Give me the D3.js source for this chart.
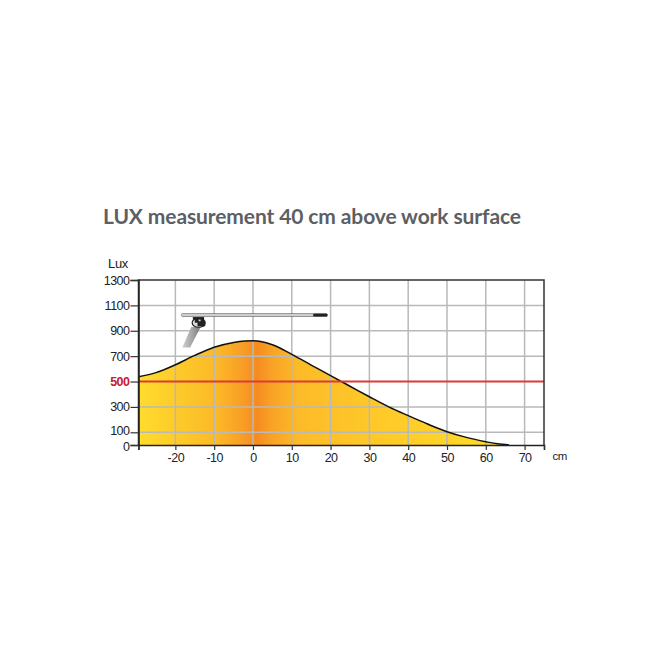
<!DOCTYPE html>
<html>
<head>
<meta charset="utf-8">
<script src="https://cdn.jsdelivr.net/npm/d3@7"></script>
<style>
html,body{margin:0;padding:0;background:#fff;}
svg{display:block;}
text{font-family:"Liberation Sans",Arial,sans-serif;}
</style>
</head>
<body>
<svg id="c" width="670" height="670"></svg>
<script>
const titleText = "LUX measurement 40 cm above work surface";
const xTicks = [-20,-10,0,10,20,30,40,50,60,70];
const yTicks = [0,100,300,500,700,900,1100,1300];
const curveX = [-29.5,-25,-20,-15,-10,-5,-2,0,2,5,10,15,20,25,30,35,40,45,50,55,60,63,66];
const curveLux = [538,570,632,706,770,808,819,821,815,790,714,630,546,463,380,300,231,165,105,60,26,9,0];
const threshold = 500;
const lampArmX = [-18.5,19.2];
const lampHeadX = [15.5,19.2];
const lampLux = 1024;

const svg = d3.select("#c");
const x = d3.scaleLinear().domain([-29.5,75]).range([138.5,544]);
const y = d3.scaleLinear().domain([0,1300]).range([445,280]);

const defs = svg.append("defs");
const grad = defs.append("linearGradient").attr("id","g").attr("gradientUnits","userSpaceOnUse")
  .attr("x1",x(-29.5)).attr("x2",x(66)).attr("y1",0).attr("y2",0);
[[-29.5,"#ffdc2e"],[-18,"#fdc829"],[-9,"#fcb827"],[-3,"#f89f26"],[1,"#f58b20"],[5,"#f9a325"],[12,"#fcbb28"],[30,"#fec828"],[66,"#ffdc2a"]]
  .forEach(([v,c])=>grad.append("stop").attr("offset",(v+29.5)/95.5).attr("stop-color",c));
defs.append("linearGradient").attr("id","arm").attr("x1",0).attr("x2",0).attr("y1",0).attr("y2",1)
  .selectAll("stop").data([["0","#999"],["0.5","#eee"],["1","#888"]]).join("stop")
  .attr("offset",d=>d[0]).attr("stop-color",d=>d[1]);
defs.append("linearGradient").attr("id","stem").attr("x1",0).attr("x2",1).attr("y1",0).attr("y2",0)
  .selectAll("stop").data([["0","#d0d0d0"],["0.6","#a0a0a0"],["1","#777"]]).join("stop")
  .attr("offset",d=>d[0]).attr("stop-color",d=>d[1]);

svg.append("text").attr("x",103).attr("y",224)
  .style("font-family","Lato").style("font-weight",700).style("font-size","21px").attr("fill","#5c5f63")
  .attr("textLength",418).attr("lengthAdjust","spacing").text(titleText);

const pts = curveX.map((v,i)=>[v,curveLux[i]]);
const area = d3.area().x(d=>x(d[0])).y0(y(0)).y1(d=>y(d[1])).curve(d3.curveMonotoneX);
const line = d3.line().x(d=>x(d[0])).y(d=>y(d[1])).curve(d3.curveMonotoneX);
svg.append("path").datum(pts).attr("d",area).attr("fill","url(#g)");

const grid = svg.append("g").attr("stroke","#b9b9b9").attr("stroke-width",1.5);
grid.selectAll("line.v").data(xTicks).join("line")
  .attr("x1",d=>x(d)).attr("x2",d=>x(d)).attr("y1",y(1300)).attr("y2",y(0));
grid.selectAll("line.h").data(yTicks.filter(d=>d>0&&d<1300&&d!==threshold)).join("line")
  .attr("x1",x(-29.5)).attr("x2",x(75)).attr("y1",d=>y(d)).attr("y2",d=>y(d));

svg.append("path").datum(pts).attr("d",line).attr("fill","none").attr("stroke","#111").attr("stroke-width",1.5);

svg.append("line").attr("x1",x(-29.5)).attr("x2",x(75)).attr("y1",y(threshold)).attr("y2",y(threshold))
  .attr("stroke","#dc3a36").attr("stroke-width",2);

svg.append("path").attr("fill","none").attr("stroke","#333").attr("stroke-width",1.5)
  .attr("d",`M${x(-29.5)},${y(0)}V${y(1300)}H${x(75)}V${y(0)}`);

const ax = svg.append("g").attr("transform",`translate(0,${y(0)})`)
  .call(d3.axisBottom(x).tickValues([-29.5,...xTicks,75]).tickSize(5).tickFormat(d=>xTicks.includes(d)?d:""));
const ay = svg.append("g").attr("transform",`translate(${x(-29.5)},0)`)
  .call(d3.axisLeft(y).tickValues(yTicks).tickSize(8).tickPadding(1).tickFormat(d=>d));
[ax,ay].forEach(g=>{
  g.select(".domain").attr("stroke","#222").attr("stroke-width",1.5);
  g.selectAll(".tick line").attr("stroke","#333").attr("stroke-width",1.2);
  g.selectAll("text").style("font-size","12.5px").style("font-family","Liberation Sans").style("letter-spacing","-0.5px").attr("fill","#222");
});
ax.selectAll("text").attr("dy","0.72em");
ay.selectAll(".tick").filter(d=>d===threshold).select("text").attr("fill","#c8202f").style("font-weight",700);
ay.selectAll(".tick").filter(d=>d===100).select("text").attr("dy","0.2em");
ay.selectAll(".tick").filter(d=>d===0).select("text").attr("dy","0.42em");

svg.append("text").attr("x",108).attr("y",268).style("font-size","13px").style("letter-spacing","-0.3px").attr("fill","#222").text("Lux");
svg.append("text").attr("x",552.5).attr("y",460).style("font-size","11.5px").style("letter-spacing","-0.4px").attr("fill","#222").text("cm");

const lamp = svg.append("g");
lamp.append("rect").attr("x",x(lampArmX[0])).attr("y",y(lampLux)-1.5).attr("rx",1.5)
  .attr("width",x(lampArmX[1])-x(lampArmX[0])).attr("height",3).attr("fill","url(#arm)").attr("stroke","#666").attr("stroke-width",0.5);
lamp.append("rect").attr("x",x(lampHeadX[0])).attr("y",y(lampLux)-1.4).attr("rx",1)
  .attr("width",x(lampHeadX[1])-x(lampHeadX[0])).attr("height",2.8).attr("fill","#222");
lamp.append("path").attr("fill","url(#stem)")
  .attr("d",`M${x(-15.9)},${y(929)}L${x(-13.5)},${y(929)}L${x(-16.2)},${y(768)}L${x(-18.2)},${y(768)}Z`);
lamp.append("ellipse").attr("cx",x(-14)).attr("cy",y(963)).attr("rx",6.5).attr("ry",4.5).attr("fill","#ddd").attr("stroke","#222").attr("stroke-width",1.2);
lamp.append("rect").attr("x",x(-15.5)).attr("y",y(1008)).attr("width",x(-12.6)-x(-15.5)).attr("height",2.5).attr("fill","#222");
lamp.append("rect").attr("x",x(-15)).attr("y",y(995)).attr("width",x(-14)-x(-15)).attr("height",4).attr("fill","#222");
lamp.append("rect").attr("x",x(-13.5)).attr("y",y(995)).attr("width",x(-12.6)-x(-13.5)).attr("height",4).attr("fill","#222");
lamp.append("rect").attr("x",x(-14.3)).attr("y",y(975)).attr("width",x(-12.3)-x(-14.3)).attr("height",5).attr("fill","#222");
</script>
</body>
</html>
